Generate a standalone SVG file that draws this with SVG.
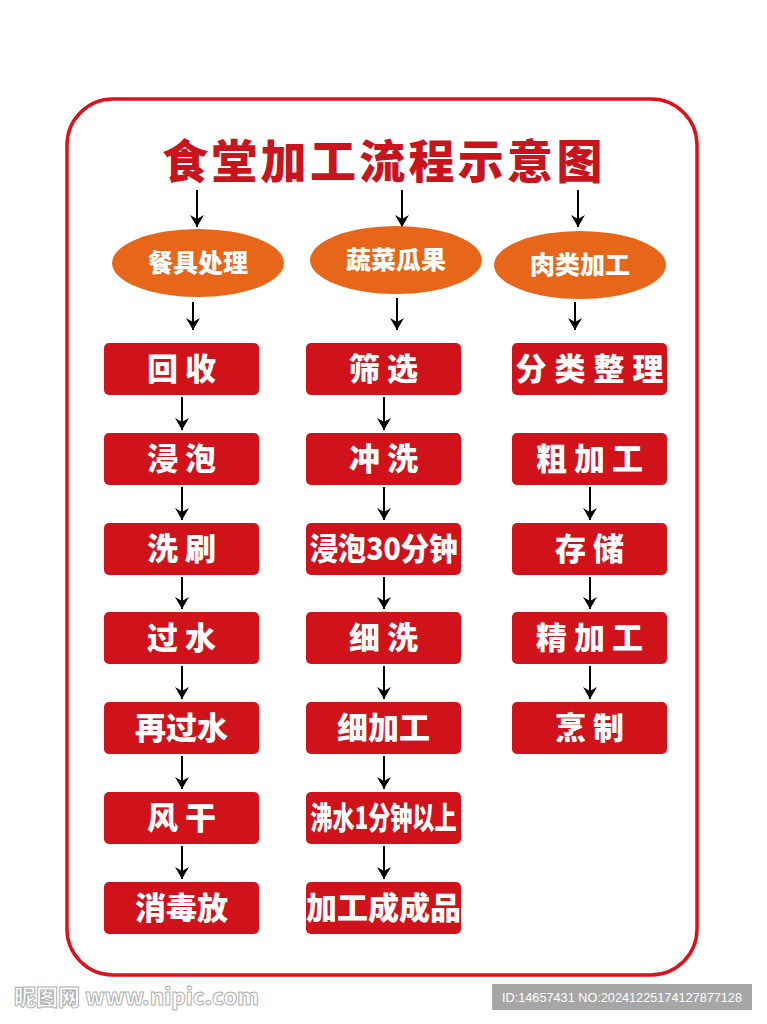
<svg xmlns="http://www.w3.org/2000/svg" width="767" height="1024" viewBox="0 0 767 1024">
<defs>
<marker id="ah" markerWidth="12" markerHeight="14" refX="12" refY="7" orient="auto" markerUnits="userSpaceOnUse" viewBox="0 0 12 14">
<path d="M0,0 L4,7 L0,14 L12,7 Z" fill="#000"/>
</marker>
<style>
.box{fill:#d0121b;}
.ell{fill:#e8661a;}
.bt{font-family:"Noto Sans CJK SC","Noto Sans",sans-serif;font-weight:900;font-size:31px;fill:#fff;text-anchor:middle;}
.et{font-family:"Noto Sans CJK SC","Noto Sans",sans-serif;font-weight:900;font-size:25px;fill:#fff;text-anchor:middle;}
.ar{stroke:#000;stroke-width:2;fill:none;marker-end:url(#ah);}
</style>
</defs>
<rect width="767" height="1024" fill="#fff"/>
<rect x="67" y="99" width="630" height="876" rx="46" ry="46" fill="none" stroke="#e0101a" stroke-width="3.5"/>
<g id="title">
<text x="162" y="178" font-family="'Noto Sans CJK SC',sans-serif" font-weight="900" font-size="46" letter-spacing="3.3" fill="#c8141c">食堂加工流程示意图</text>
</g>
<g id="connectors">
<line class="ar" x1="197" y1="190" x2="197" y2="227"/>
<line class="ar" x1="402" y1="190" x2="402" y2="227"/>
<line class="ar" x1="578" y1="190" x2="578" y2="227"/>
<line class="ar" x1="193" y1="302" x2="193" y2="330"/>
<line class="ar" x1="397" y1="298" x2="397" y2="330"/>
<line class="ar" x1="575" y1="302" x2="575" y2="330"/>
<line class="ar" x1="182" y1="397" x2="182" y2="430"/>
<line class="ar" x1="182" y1="487" x2="182" y2="520"/>
<line class="ar" x1="182" y1="577" x2="182" y2="609"/>
<line class="ar" x1="182" y1="666" x2="182" y2="699"/>
<line class="ar" x1="182" y1="756" x2="182" y2="789"/>
<line class="ar" x1="182" y1="846" x2="182" y2="879"/>
<line class="ar" x1="384" y1="397" x2="384" y2="430"/>
<line class="ar" x1="384" y1="487" x2="384" y2="520"/>
<line class="ar" x1="384" y1="577" x2="384" y2="609"/>
<line class="ar" x1="384" y1="666" x2="384" y2="699"/>
<line class="ar" x1="384" y1="756" x2="384" y2="789"/>
<line class="ar" x1="384" y1="846" x2="384" y2="879"/>
<line class="ar" x1="590" y1="487" x2="590" y2="520"/>
<line class="ar" x1="590" y1="577" x2="590" y2="609"/>
<line class="ar" x1="590" y1="666" x2="590" y2="699"/>
</g>
<g id="e1"><ellipse class="ell" cx="198" cy="263" rx="86" ry="34"/><text class="et" x="198" y="272">餐具处理</text></g>
<g id="e2"><ellipse class="ell" cx="396" cy="260" rx="86" ry="34"/><text class="et" x="396" y="269">蔬菜瓜果</text></g>
<g id="e3"><ellipse class="ell" cx="580" cy="265" rx="86" ry="34"/><text class="et" x="580" y="274">肉类加工</text></g>

<g id="a1"><rect class="box" x="104" y="343" width="155" height="52" rx="5"/><text class="bt" x="181.5" y="380">回 收</text></g>
<g id="a2"><rect class="box" x="104" y="433" width="155" height="52" rx="5"/><text class="bt" x="181.5" y="470">浸 泡</text></g>
<g id="a3"><rect class="box" x="104" y="523" width="155" height="52" rx="5"/><text class="bt" x="181.5" y="560">洗 刷</text></g>
<g id="a4"><rect class="box" x="104" y="612" width="155" height="52" rx="5"/><text class="bt" x="181.5" y="649">过 水</text></g>
<g id="a5"><rect class="box" x="104" y="702" width="155" height="52" rx="5"/><text class="bt" x="181.5" y="739">再过水</text></g>
<g id="a6"><rect class="box" x="104" y="792" width="155" height="52" rx="5"/><text class="bt" x="181.5" y="829">风 干</text></g>
<g id="a7"><rect class="box" x="104" y="882" width="155" height="52" rx="5"/><text class="bt" x="181.5" y="919">消毒放</text></g>

<g id="b1"><rect class="box" x="306" y="343" width="155" height="52" rx="5"/><text class="bt" x="383.5" y="380">筛 选</text></g>
<g id="b2"><rect class="box" x="306" y="433" width="155" height="52" rx="5"/><text class="bt" x="383.5" y="470">冲 洗</text></g>
<g id="b3"><rect class="box" x="306" y="523" width="155" height="52" rx="5"/><text class="bt" x="383.5" y="560" font-size="29" textLength="148" lengthAdjust="spacingAndGlyphs">浸泡30分钟</text></g>
<g id="b4"><rect class="box" x="306" y="612" width="155" height="52" rx="5"/><text class="bt" x="383.5" y="649">细 洗</text></g>
<g id="b5"><rect class="box" x="306" y="702" width="155" height="52" rx="5"/><text class="bt" x="383.5" y="739">细加工</text></g>
<g id="b6"><rect class="box" x="306" y="792" width="155" height="52" rx="5"/><text class="bt" x="383.5" y="829" font-size="29" textLength="146" lengthAdjust="spacingAndGlyphs">沸水1分钟以上</text></g>
<g id="b7"><rect class="box" x="306" y="882" width="155" height="52" rx="5"/><text class="bt" x="383.5" y="919" font-size="29">加工成成品</text></g>

<g id="c1"><rect class="box" x="512" y="343" width="155" height="52" rx="5"/><text class="bt" x="589.5" y="380" textLength="148" lengthAdjust="spacing">分类整理</text></g>
<g id="c2"><rect class="box" x="512" y="433" width="155" height="52" rx="5"/><text class="bt" x="589.5" y="470">粗 加 工</text></g>
<g id="c3"><rect class="box" x="512" y="523" width="155" height="52" rx="5"/><text class="bt" x="589.5" y="560">存 储</text></g>
<g id="c4"><rect class="box" x="512" y="612" width="155" height="52" rx="5"/><text class="bt" x="589.5" y="649">精 加 工</text></g>
<g id="c5"><rect class="box" x="512" y="702" width="155" height="52" rx="5"/><text class="bt" x="589.5" y="739">烹 制</text></g>

<g id="watermark">
<text x="14" y="1005" font-family="'Noto Sans CJK SC',sans-serif" font-weight="900" font-size="22" fill="#fff" stroke="#b0b0b0" stroke-width="1">昵图网 www.nipic.com</text>
<rect x="492" y="984" width="260" height="26" fill="#a6a6a6"/>
<text x="622" y="1002" font-family="'Liberation Sans',sans-serif" font-size="13" fill="#fff" text-anchor="middle" textLength="240" lengthAdjust="spacingAndGlyphs">ID:14657431 NO:20241225174127877128</text>
</g>
</svg>
